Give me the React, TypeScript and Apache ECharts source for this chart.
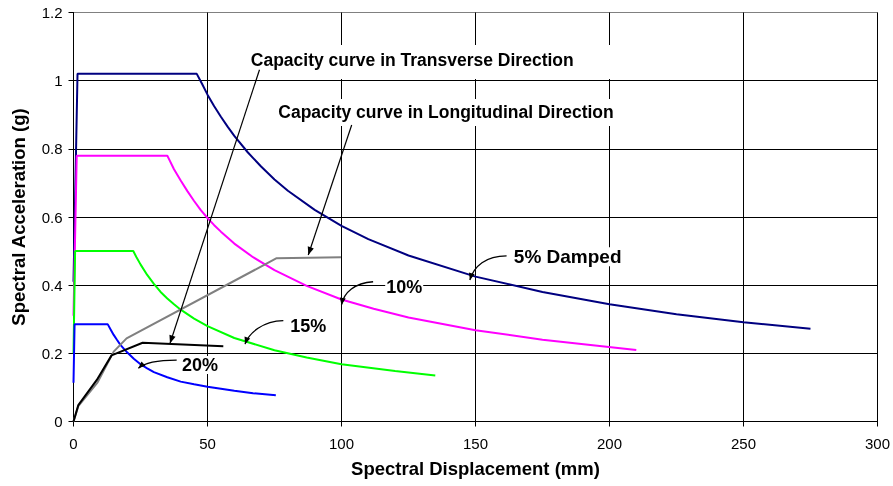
import { useEffect, useRef } from "react";
import * as echarts from "echarts";

// ---- Demand spectra (Sd in mm, Sa in g) ----
const sd5 = [0, 1.5, 46, 48, 50, 52.5, 55, 57.5, 60, 65, 70, 75, 80, 90, 100, 110, 125, 150, 175, 200, 225, 250, 275];
const sa5 = [0.41, 1.02, 1.02, 0.99, 0.959, 0.925, 0.894, 0.865, 0.838, 0.79, 0.748, 0.71, 0.677, 0.621, 0.574, 0.535, 0.487, 0.425, 0.38, 0.344, 0.315, 0.291, 0.272];

const sd10 = [0, 1.2, 35, 37.5, 40, 42.5, 45, 47.5, 50, 52.5, 55, 60, 67, 75, 87, 100, 112, 125, 150, 175, 210];
const sa10 = [0.31, 0.78, 0.78, 0.74, 0.707, 0.676, 0.647, 0.62, 0.597, 0.576, 0.557, 0.522, 0.482, 0.444, 0.398, 0.358, 0.331, 0.305, 0.268, 0.24, 0.21];

const sd15 = [0, 0.6, 22.3, 23.5, 25, 27.5, 30, 32.5, 35, 37.5, 40, 45, 50, 60, 75, 87, 100, 120, 135];
const sa15 = [0.2, 0.5, 0.5, 0.482, 0.461, 0.43, 0.404, 0.38, 0.361, 0.344, 0.328, 0.302, 0.28, 0.245, 0.209, 0.188, 0.168, 0.148, 0.135];

const sd20 = [0, 0.4, 12.8, 14, 15, 16.2, 17.5, 20, 22.5, 25, 27.5, 30, 35, 40, 45, 50, 55, 60, 67, 75.5];
const sa20 = [0.114, 0.285, 0.285, 0.268, 0.254, 0.24, 0.225, 0.203, 0.184, 0.168, 0.156, 0.145, 0.13, 0.117, 0.109, 0.102, 0.096, 0.09, 0.083, 0.077];

// ---- Capacity curves ----
const sdTrans = [0, 1.8, 8.7, 14.2, 25.8, 55.9];
const saTrans = [0, 0.048, 0.122, 0.194, 0.231, 0.221];

const sdLong = [0, 1.8, 9, 15, 19.8, 75.8, 99.8];
const saLong = [0, 0.045, 0.115, 0.205, 0.244, 0.479, 0.482];

// ---- Annotations (data coordinates) ----
const labelTexts = [
  "Capacity curve in Transverse Direction",
  "Capacity curve in Longitudinal Direction",
  "5% Damped",
  "10%",
  "15%",
  "20%",
];
const labelSd = [126.4, 139.0, 184.4, 123.4, 87.6, 47.2];
const labelSa = [1.061, 0.908, 0.4836, 0.3955, 0.28, 0.166];
const labelSizes = [17.5, 17.5, 19, 18, 18, 18];

// straight arrows: [fromSd, fromSa, toSd, toSa]
const straightArrows = [
  [69.4, 1.032, 36.0, 0.229],
  [103.8, 0.87, 87.6, 0.4886],
];
// curved arrows: [fromSd, fromSa, cp1Sd, cp1Sa, cp2Sd, cp2Sa, toSd, toSa]
const curvedArrows = [
  [161.6, 0.486, 153.9, 0.486, 149.4, 0.456, 147.9, 0.415],
  [111.8, 0.41, 105.0, 0.406, 100.9, 0.38, 100.0, 0.342],
  [78.3, 0.296, 70.7, 0.295, 65.5, 0.26, 64.0, 0.227],
  [38.5, 0.18, 31.5, 0.18, 26.7, 0.174, 24.2, 0.156],
];

// white boxes behind the two capacity-curve labels: [sd1, sa1, sd2, sa2]
const labelBoxes = [
  [56.5, 1.105, 202, 1.005],
  [71.4, 0.946, 205.7, 0.867],
];

const FONT = "'Liberation Sans', Arial, Helvetica, sans-serif";

export default function App() {
  const ref = useRef<HTMLDivElement>(null);
  useEffect(() => {
    const chart = echarts.init(ref.current!, null, { renderer: "svg" });
    const pair = (xs: number[], ys: number[]) => xs.map((x, i) => [x, ys[i]]);
    const mk = (name: string, xs: number[], ys: number[], color: string, w = 2) => ({
      type: "line",
      name,
      data: pair(xs, ys),
      showSymbol: false,
      symbol: "none",
      lineStyle: { color, width: w },
      itemStyle: { color },
      silent: true,
    });
    chart.setOption({
      animation: false,
      grid: {
        left: 73.5,
        right: 15.3,
        top: 12.5,
        bottom: 64.5,
        show: true,
        borderColor: "#808080",
        borderWidth: 1,
        backgroundColor: "transparent",
      },
      xAxis: {
        type: "value",
        min: 0,
        max: 300,
        interval: 50,
        name: "Spectral Displacement (mm)",
        nameLocation: "middle",
        nameGap: 37,
        nameTextStyle: { fontFamily: FONT, fontWeight: "bold", fontSize: 18.5, color: "#000" },
        axisLine: { show: true, onZero: false, lineStyle: { color: "#000", width: 1 } },
        axisTick: { show: true, inside: false, length: 5, lineStyle: { color: "#000" } },
        axisLabel: { fontFamily: FONT, fontSize: 15, color: "#000", margin: 14 },
        splitLine: { show: true, showMaxLine: true, lineStyle: { color: "#000", width: 1 } },
      },
      yAxis: {
        type: "value",
        min: 0,
        max: 1.2,
        interval: 0.2,
        name: "Spectral Acceleration (g)",
        nameLocation: "middle",
        nameGap: 46,
        nameRotate: 90,
        nameTextStyle: { fontFamily: FONT, fontWeight: "bold", fontSize: 18.5, color: "#000" },
        axisLine: { show: true, onZero: false, lineStyle: { color: "#000", width: 1 } },
        axisTick: { show: true, inside: false, length: 5, lineStyle: { color: "#000" } },
        axisLabel: { fontFamily: FONT, fontSize: 15, color: "#000", margin: 11 },
        splitLine: { show: true, showMinLine: true, showMaxLine: false, lineStyle: { color: "#000", width: 1 } },
      },
      series: [
        mk("5% Damped", sd5, sa5, "#000080"),
        mk("10%", sd10, sa10, "#FF00FF"),
        mk("15%", sd15, sa15, "#00FF00"),
        mk("20%", sd20, sa20, "#0000FF"),
        mk("Longitudinal", sdLong, saLong, "#808080"),
        mk("Transverse", sdTrans, saTrans, "#000000"),
      ],
    });

    const P = (x: number, y: number) => chart.convertToPixel({ gridIndex: 0 }, [x, y]) as number[];
    const head = (tip: number[], from: number[], L = 8, W = 3.2) => {
      const dx = tip[0] - from[0];
      const dy = tip[1] - from[1];
      const len = Math.hypot(dx, dy) || 1;
      const ux = dx / len;
      const uy = dy / len;
      const bx = tip[0] - ux * L;
      const by = tip[1] - uy * L;
      return {
        type: "polygon",
        z: 100,
        shape: { points: [tip, [bx - uy * W, by + ux * W], [bx + uy * W, by - ux * W]] },
        style: { fill: "#000" },
      };
    };

    const graphics: any[] = [];
    labelBoxes.forEach((b) => {
      const a = P(b[0], b[1]);
      const c = P(b[2], b[3]);
      graphics.push({
        type: "rect",
        z: 100,
        shape: { x: a[0], y: a[1], width: c[0] - a[0], height: c[1] - a[1] },
        style: { fill: "#fff" },
      });
    });
    labelTexts.forEach((t, i) => {
      const p = P(labelSd[i], labelSa[i]);
      const big = i < 2;
      graphics.push({
        type: "text",
        z: 101,
        x: p[0],
        y: p[1],
        style: {
          text: t,
          fontFamily: FONT,
          fontWeight: "bold",
          fontSize: labelSizes[i],
          fill: "#000",
          align: "center",
          verticalAlign: "middle",
          backgroundColor: big ? undefined : "#fff",
          padding: big ? 0 : [0, 1],
        },
      });
    });
    straightArrows.forEach((a) => {
      const s = P(a[0], a[1]);
      const e = P(a[2], a[3]);
      graphics.push({
        type: "line",
        z: 102,
        shape: { x1: s[0], y1: s[1], x2: e[0], y2: e[1] },
        style: { stroke: "#000", lineWidth: 1.2 },
      });
      graphics.push(head(e, s));
    });
    curvedArrows.forEach((a) => {
      const s = P(a[0], a[1]);
      const c1 = P(a[2], a[3]);
      const c2 = P(a[4], a[5]);
      const e = P(a[6], a[7]);
      graphics.push({
        type: "bezierCurve",
        z: 102,
        shape: { x1: s[0], y1: s[1], cpx1: c1[0], cpy1: c1[1], cpx2: c2[0], cpy2: c2[1], x2: e[0], y2: e[1] },
        style: { stroke: "#000", lineWidth: 1.3, fill: null },
      });
      graphics.push(head(e, c2, 7, 3));
    });
    chart.setOption({ graphic: graphics });

    return () => chart.dispose();
  }, []);
  return <div ref={ref} style={{ position: "fixed", left: 0, top: 0, width: 893, height: 486 }} />;
}
